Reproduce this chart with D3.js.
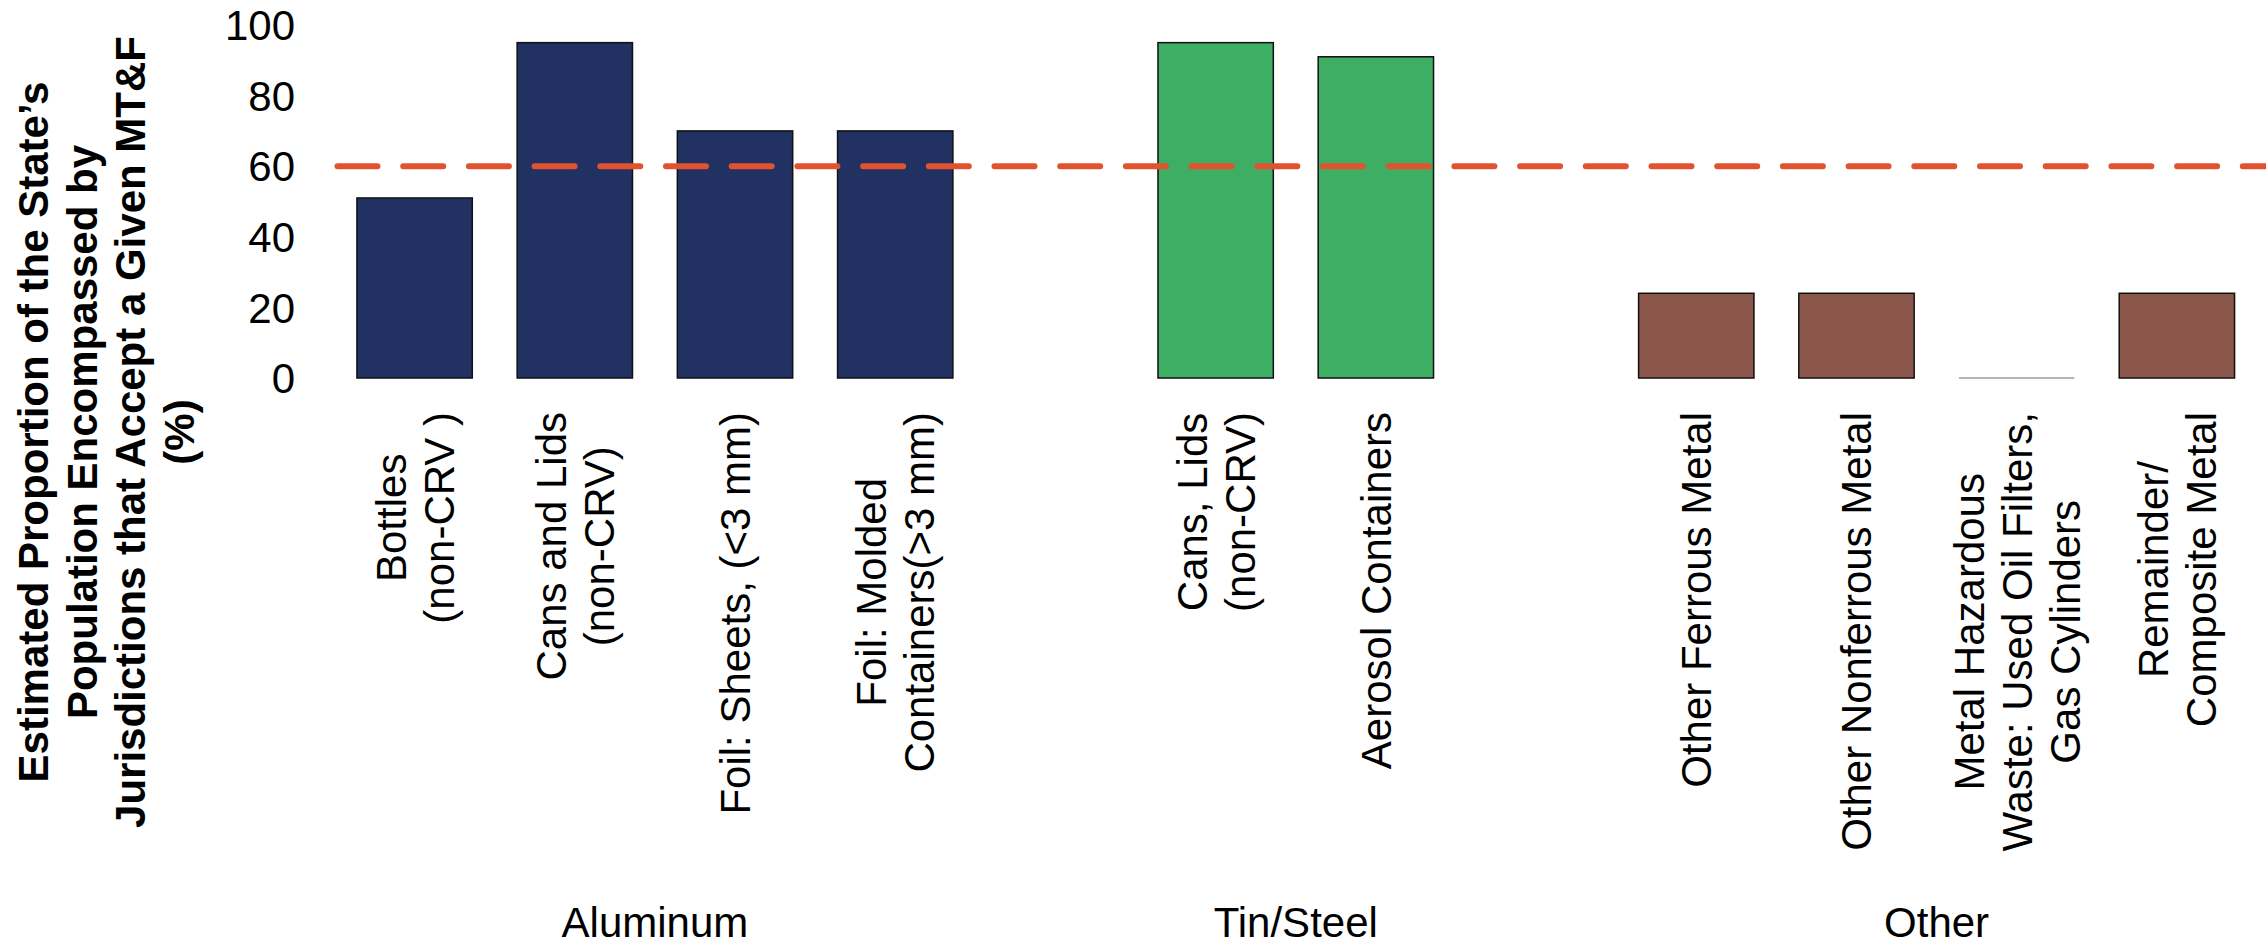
<!DOCTYPE html>
<html>
<head>
<meta charset="utf-8">
<script src="https://cdn.jsdelivr.net/npm/d3@7"></script>
<style>
  html, body { margin: 0; padding: 0; background: #fff; }
  svg text { font-family: "Liberation Sans", Arial, sans-serif; fill: #000; }
</style>
</head>
<body>
<svg id="chart" width="2266" height="949"></svg>
<script>
// ---- data ----
const categories = [
  "Bottles (non-CRV )", "Cans and Lids (non-CRV)", "Foil: Sheets, (<3 mm)", "Foil: Molded Containers(>3 mm)",
  "gap1",
  "Cans, Lids (non-CRV)", "Aerosol Containers",
  "gap2",
  "Other Ferrous Metal", "Other Nonferrous Metal",
  "Metal Hazardous Waste: Used Oil Filters, Gas Cylinders", "Remainder/ Composite Metal"
];
const categoryLabels = [
  ["Bottles", "(non-CRV )"], ["Cans and Lids", "(non-CRV)"], ["Foil: Sheets, (<3 mm)"], ["Foil: Molded", "Containers(>3 mm)"],
  [],
  ["Cans, Lids", "(non-CRV)"], ["Aerosol Containers"],
  [],
  ["Other Ferrous Metal"], ["Other Nonferrous Metal"],
  ["Metal Hazardous", "Waste: Used Oil Filters,", "Gas Cylinders"], ["Remainder/", "Composite Metal"]
];
const values = [51, 95, 70, 70, null, 95, 91, null, 24, 24, 0, 24];
const categoryGroup = ["Aluminum", "Aluminum", "Aluminum", "Aluminum", null, "Tin/Steel", "Tin/Steel", null, "Other", "Other", "Other", "Other"];
const groupNames = ["Aluminum", "Tin/Steel", "Other"];
const groupColors = ["#213162", "#3DAE64", "#8B574B"];
const threshold = 60;
const yTicks = [0, 20, 40, 60, 80, 100];
const yTitle = ["Estimated Proportion of the State\u2019s", "Population Encompassed by", "Jurisdictions that Accept a Given MT&F", "(%)"];

// ---- layout ----
const svg = d3.select("#chart");
const FS = 42;
const plotTop = 25, plotBottom = 378, plotLeft = 334.5, plotRight = 2257;

const x = d3.scaleBand().domain(categories).range([plotLeft, plotRight]).paddingInner(0.28).paddingOuter(0.14);
const y = d3.scaleLinear().domain([0, 100]).range([plotBottom, plotTop]);
const color = d3.scaleOrdinal().domain(groupNames).range(groupColors);

const rows = categories.map((c, i) => ({ c, v: values[i], g: categoryGroup[i], lines: categoryLabels[i] }));

// y tick labels
svg.append("g").selectAll("text").data(yTicks).join("text")
  .attr("x", 295).attr("y", d => y(d)).attr("dy", "0.36em")
  .attr("text-anchor", "end").style("font-size", FS + "px")
  .text(d => d);

// bars
const bars = rows.filter(d => d.v !== null);
svg.append("g").selectAll("rect").data(bars.filter(d => d.v > 0)).join("rect")
  .attr("x", d => x(d.c)).attr("width", x.bandwidth())
  .attr("y", d => y(d.v)).attr("height", d => y(0) - y(d.v))
  .attr("fill", d => color(d.g)).attr("stroke", "#111").attr("stroke-width", 1.5);
svg.append("g").selectAll("line").data(bars.filter(d => d.v === 0)).join("line")
  .attr("x1", d => x(d.c)).attr("x2", d => x(d.c) + x.bandwidth())
  .attr("y1", y(0)).attr("y2", y(0))
  .attr("stroke", "#a39a96").attr("stroke-width", 1.5);

// threshold line
svg.append("line")
  .attr("x1", plotLeft + 3).attr("x2", 2266)
  .attr("y1", y(threshold)).attr("y2", y(threshold))
  .attr("stroke", "#E1532E").attr("stroke-width", 6)
  .attr("stroke-dasharray", "40 25.7").attr("stroke-linecap", "round");

// category labels (rotated, lines centered to each other, block ends at top anchor)
const labelTop = 412, lineH = 48, capHalf = 15;
rows.filter(d => d.lines.length).forEach(d => {
  const cx = x(d.c) + x.bandwidth() / 2;
  const g = svg.append("g").attr("transform", `translate(${cx},${labelTop}) rotate(-90)`);
  const n = d.lines.length;
  const texts = g.selectAll("text").data(d.lines).join("text")
    .style("font-size", FS + "px").attr("text-anchor", "middle")
    .attr("y", (l, i) => (i - (n - 1) / 2) * lineH + capHalf)
    .text(l => l);
  let maxW = 0;
  texts.each(function () { maxW = Math.max(maxW, this.getComputedTextLength()); });
  texts.attr("x", -maxW / 2);
});

// group labels
groupNames.forEach(gn => {
  const members = rows.filter(d => d.g === gn);
  const a = x(members[0].c), b = x(members[members.length - 1].c) + x.bandwidth();
  svg.append("text").attr("x", (a + b) / 2).attr("y", 937)
    .attr("text-anchor", "middle").style("font-size", FS + "px").text(gn);
});

// y-axis title
const tg = svg.append("g").attr("transform", "translate(0,432) rotate(-90)");
tg.selectAll("text").data(yTitle).join("text")
  .attr("x", 0).attr("y", (d, i) => 48 + i * 48.5)
  .attr("text-anchor", "middle").style("font-size", FS + "px").style("font-weight", "bold")
  .text(d => d);
</script>
</body>
</html>
